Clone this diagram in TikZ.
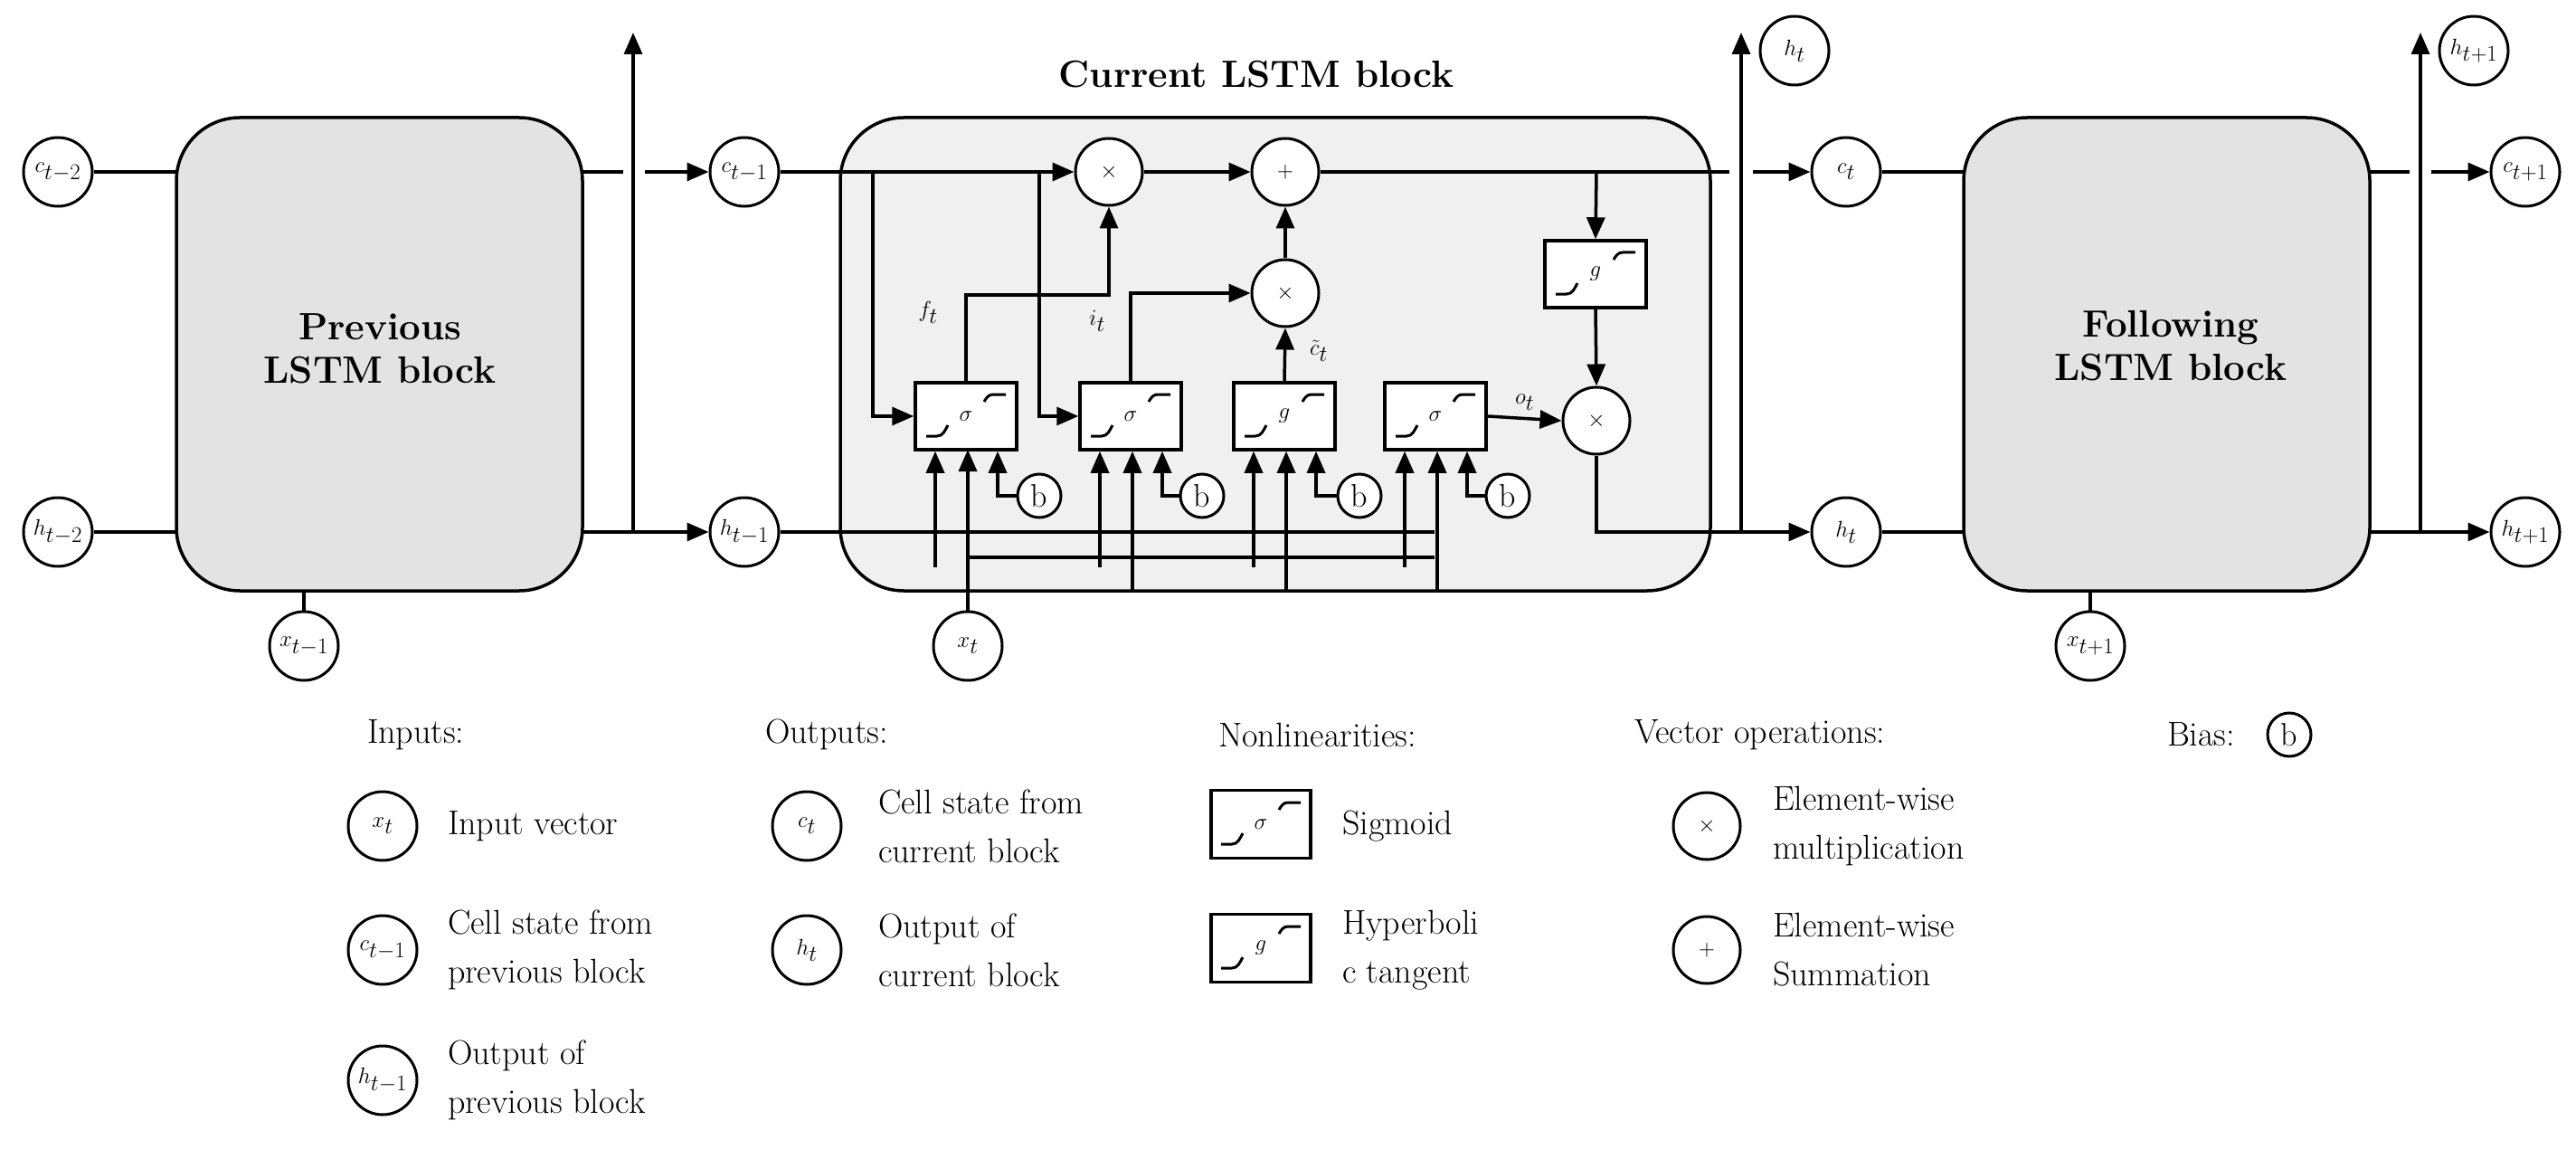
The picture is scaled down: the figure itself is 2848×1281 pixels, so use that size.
\documentclass[tikz,border=0pt]{standalone}
\usetikzlibrary{arrows.meta,calc}
\begin{document}
\begin{tikzpicture}[x=1pt,y=-1pt,line width=3.5pt,
  arr/.style={-{Triangle[length=24pt,width=20pt]}},
  circ/.style={circle,draw,line width=3pt,minimum size=76pt,inner sep=0pt,font=\fontsize{34}{34}\selectfont,fill=white},
  op/.style={circle,draw,line width=3pt,minimum size=74pt,inner sep=0pt,font=\fontsize{44}{44}\selectfont,fill=white},
  bias/.style={circle,draw,line width=3pt,minimum size=48pt,inner sep=0pt,font=\fontsize{36}{36}\selectfont,fill=white},
  act/.style={draw,line width=3.5pt,minimum width=112pt,minimum height=74pt,inner sep=0pt,font=\fontsize{34}{34}\selectfont,fill=white},
  blk/.style={draw,line width=3.5pt,rounded corners=70pt},
  big/.style={font=\fontsize{42}{48}\selectfont\bfseries,align=center},
  leg/.style={font=\fontsize{38}{54}\selectfont,align=left,anchor=west}]
\useasboundingbox (0,0) rectangle (2848,1281);
\newcommand\glyph[1]{%
  \draw[line width=3pt] ([shift={(-44,22)}]#1.center) -- ++(12,0) to[out=0,in=240] ++(12,-12);
  \draw[line width=3pt] ([shift={(20,-16)}]#1.center) to[out=60,in=180] ++(10,-8) -- ++(14,0);}
% blocks
\draw[blk,fill=black!11] (195,130) rectangle (644,653);
\node[big] (prevt) at (420,385) {Previous\\LSTM block};
\draw[blk,fill=black!6] (929,130) rectangle (1891,653);
\node[big] (curt) at (1389,82) {Current LSTM block};
\draw[blk,fill=black!11] (2171,130) rectangle (2620,653);
\node[big] (follt) at (2400,382) {Following\\LSTM block};
% outer circles
\node[circ] (ctm2) at (64,190) {$c_{t-2}$};
\node[circ] (htm2) at (64,588) {$h_{t-2}$};
\node[circ] (xtm1) at (336,714) {$x_{t-1}$};
\node[circ] (ctm1) at (823,190) {$c_{t-1}$};
\node[circ] (htm1) at (823,588) {$h_{t-1}$};
\node[circ] (xt) at (1070,714) {$x_t$};
\node[circ] (ct) at (2041,190) {$c_t$};
\node[circ] (ht) at (2041,588) {$h_t$};
\node[circ] (htup) at (1984,56) {$h_t$};
\node[circ] (xtp1) at (2311,714) {$x_{t+1}$};
\node[circ] (ctp1) at (2792,190) {$c_{t+1}$};
\node[circ] (htp1) at (2792,588) {$h_{t+1}$};
\node[circ] (htp1up) at (2735,56) {$h_{t+1}$};
\coordinate (up0) at (700,36);
\coordinate (up1) at (1925,36);
\coordinate (up2) at (2676,36);
% previous block wiring
\draw (ctm2.east) -- (195,190);
\draw (htm2.east) -- (195,588);
\draw (xtm1.north) -- (336,653);
\draw (644,190) -- (689,190);
\draw[arr] (713,190) -- (ctm1.west);
\draw[arr] (644,588) -- (htm1.west);
\draw[arr] (700,588) -- (up0);
% following block wiring
\draw (ct.east) -- (2171,190);
\draw (ht.east) -- (2171,588);
\draw (xtp1.north) -- (2311,653);
\draw (2620,190) -- (2664,190);
\draw[arr] (2688,190) -- (ctp1.west);
\draw[arr] (2620,588) -- (htp1.west);
\draw[arr] (2676,588) -- (up2);
% current block internals
\node[op] (m1) at (1226,190) {$\times$};
\node[op] (pl) at (1421,190) {$+$};
\node[op] (mm) at (1421,324) {$\times$};
\node[op] (mo) at (1765,465) {$\times$};
\node[act] (g1) at (1068,460) {$\sigma$};
\node[act] (g2) at (1250,460) {$\sigma$};
\node[act] (g3) at (1420,460) {$g$};
\node[act] (g4) at (1587,460) {$\sigma$};
\node[act] (tn) at (1764,303) {$g$};
\glyph{g1}\glyph{g2}\glyph{g3}\glyph{g4}\glyph{tn}
\node[bias] (b1) at (1149,548) {b};
\node[bias] (b2) at (1329,548) {b};
\node[bias] (b3) at (1503,548) {b};
\node[bias] (b4) at (1667,548) {b};
% cell line
\draw[arr] (ctm1.east) -- (m1.west);
\draw[arr] (965,190) |- (g1.west);
\draw[arr] (1149,190) |- (g2.west);
\draw[arr] (m1.east) -- (pl.west);
\draw (pl.east) -- (1912,190);
\draw[arr] (1938,190) -- (ct.west);
\draw[arr] (1765,190) -- (tn.north);
\draw[arr] (tn.south) -- (mo.north);
\draw[arr] (g4.east) -- (mo.west) node[pos=0.5,above=4pt,font=\fontsize{34}{34}\selectfont] {$o_t$};
\draw[arr] (mo.south) |- (ht.west);
\draw[arr] (1925,588) -- (up1);
% gate outputs
\draw[arr] (g1.north) |- (1226,326) -- (m1.south);
\node[font=\fontsize{34}{34}\selectfont] (ft) at (1026,345) {$f_t$};
\draw[arr] (g2.north) |- (mm.west);
\node[font=\fontsize{34}{34}\selectfont] (it) at (1213,355) {$i_t$};
\draw[arr] (g3.north) -- (mm.south);
\node[font=\fontsize{34}{34}\selectfont] (cti) at (1458,388) {$\tilde{c}_t$};
\draw[arr] (mm.north) -- (pl.south);
% inputs to gates
\draw (htm1.east) -- (1586,588);
\draw[arr] (xt.north) -- (1070,497);
\draw (1070,616) -- (1586,616);
\foreach \g/\b in {g1/b1,g2/b2,g3/b3,g4/b4}{
  \draw[arr] ($(\g.south)+(-34,128)$) -- ($(\g.south)+(-34,0)$);
  \draw[arr] (\b.west) -| ($(\g.south)+(35,0)$);
}
\foreach \g in {g2,g3,g4}{
  \draw[arr] ($(\g.south)+(2,156)$) -- ($(\g.south)+(2,0)$);
}
% legend
\node[leg] (lin) at (401,812) {Inputs:};
\node[leg] (lout) at (841,812) {Outputs:};
\node[leg] (lnl) at (1342,812) {Nonlinearities:};
\node[leg] (lvo) at (1802,812) {Vector operations:};
\node[leg] (lbi) at (2391,812) {Bias:};
\node[bias] (lb) at (2531,812) {b};
\node[circ] (lx) at (423,913) {$x_t$};
\node[leg] (lxt) at (490,913) {Input vector};
\node[circ] (lc) at (423,1050) {$c_{t-1}$};
\node[leg] (lct) at (490,1050) {Cell state from\\previous block};
\node[circ] (lh) at (423,1194) {$h_{t-1}$};
\node[leg] (lht) at (490,1194) {Output of\\previous block};
\node[circ] (oc) at (892,913) {$c_t$};
\node[leg] (oct) at (966,913) {Cell state from\\current block};
\node[circ] (oh) at (892,1050) {$h_t$};
\node[leg] (oht) at (966,1050) {Output of\\current block};
\node[act,minimum width=110pt,minimum height=75pt] (ns) at (1394,911) {$\sigma$};
\node[act,minimum width=110pt,minimum height=75pt] (ng) at (1394,1048) {$g$};
\glyph{ns}\glyph{ng}
\node[leg] (nst) at (1479,913) {Sigmoid};
\node[leg] (ngt) at (1479,1050) {Hyperboli\\c tangent};
\node[op] (vm) at (1887,913) {$\times$};
\node[leg] (vmt) at (1955,913) {Element-wise\\multiplication};
\node[op] (vp) at (1887,1050) {$+$};
\node[leg] (vpt) at (1955,1050) {Element-wise\\Summation};
\end{tikzpicture}
\end{document}
